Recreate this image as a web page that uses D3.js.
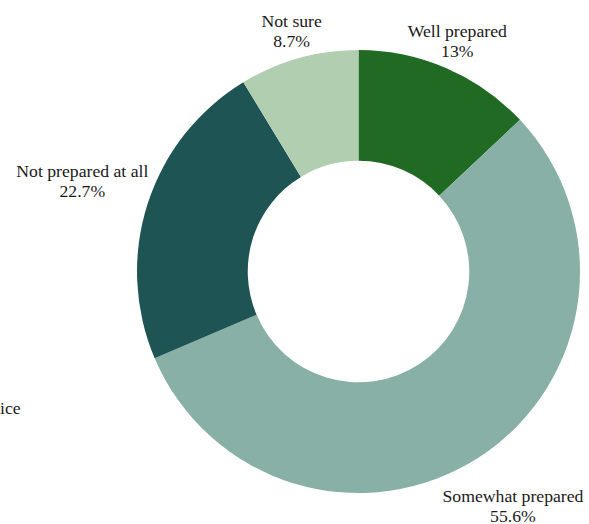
<!DOCTYPE html>
<html>
<head>
<meta charset="utf-8">
<script src="https://cdn.jsdelivr.net/npm/d3@7"></script>
<style>
  body { margin: 0; background: #fff; }
  text { font-family: "Liberation Serif", "Times New Roman", serif; fill: #1a1a1a; }
</style>
</head>
<body>
<div id="chart"></div>
<script>
// chart values
const categories = ['Well prepared', 'Somewhat prepared', 'Not prepared at all', 'Not sure']
const values = [13, 55.6, 22.7, 8.7]
const valueLabels = ['13%', '55.6%', '22.7%', '8.7%']
const colors = ['#216a24', '#88b0a6', '#1e5454', '#b2ceb0']

const [width, height] = [589, 524]
const cx = 358.5, cy = 271.5
const outer = 221.5
const inner = outer * 0.5
const fontSize = 17.7
const lineGap = 20

const svg = d3.select('#chart').append('svg')
    .attr('width', width)
    .attr('height', height)

const g = svg.append('g').attr('transform', `translate(${cx}, ${cy})`)

const arcs = d3.pie()
    .sort(null)
    .value(d => d)
    (values)

const arc = d3.arc().innerRadius(inner).outerRadius(outer)

g.selectAll('path')
    .data(arcs)
    .join('path')
    .attr('d', arc)
    .attr('fill', (d, i) => colors[i])

// labels sit outside the ring; the box edge touches the mid-angle ray
const labels = g.selectAll('g.label')
    .data(arcs)
    .join('g')
    .attr('class', 'label')

labels.append('text')
    .attr('text-anchor', 'middle')
    .attr('font-size', fontSize)
    .each(function (d, i) {
        const t = d3.select(this)
        t.append('tspan').attr('x', 0).attr('y', -6).text(categories[i])
        t.append('tspan').attr('x', 0).attr('y', -6 + lineGap).text(valueLabels[i])
    })

labels.attr('transform', function (d) {
    const w = this.getBBox().width
    const h = 38
    const a = (d.startAngle + d.endAngle) / 2
    const ux = Math.sin(a), uy = -Math.cos(a)
    const t = Math.min(w / 2 / Math.abs(ux), h / 2 / Math.abs(uy))
    // labels below the middle get pushed a bit further out
    const r = 228 + (uy > 0 ? 32 : 0) + t
    return `translate(${r * ux}, ${r * uy})`
})

// cut off text at the left edge
svg.append('text')
    .attr('x', 0)
    .attr('y', 414)
    .attr('font-size', fontSize)
    .text('ice')
</script>
</body>
</html>
